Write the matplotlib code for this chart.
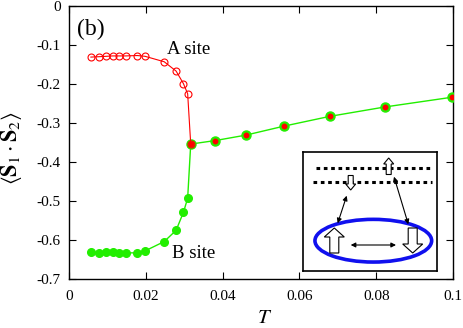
import matplotlib
matplotlib.use("Agg")
import matplotlib.pyplot as plt
from matplotlib.patches import Ellipse, FancyArrow, FancyArrowPatch

plt.rcParams['font.family'] = ['Liberation Serif', 'DejaVu Serif']
plt.rcParams['mathtext.fontset'] = 'stix'
plt.rcParams['axes.unicode_minus'] = False

# A site (low T, open red circles)
T_a = [0.0057, 0.0078, 0.0097, 0.0114, 0.0129, 0.0148, 0.0178, 0.0198,
       0.0248, 0.0279, 0.0298, 0.0309, 0.0317]
S_a = [-0.131, -0.130, -0.129, -0.128, -0.128, -0.128, -0.127, -0.129,
       -0.143, -0.167, -0.199, -0.225, -0.354]
# B site (low T, filled green circles)
T_b = [0.0057, 0.0078, 0.0097, 0.0114, 0.0129, 0.0148, 0.0178, 0.0198,
       0.0248, 0.0279, 0.0298, 0.0309, 0.0317]
S_b = [-0.632, -0.634, -0.632, -0.632, -0.633, -0.633, -0.633, -0.628,
       -0.604, -0.575, -0.529, -0.493, -0.354]
# high T (both sites equal)
T_h = [0.0317, 0.0381, 0.0461, 0.0560, 0.0679, 0.0822, 0.0997]
S_h = [-0.354, -0.345, -0.331, -0.308, -0.283, -0.259, -0.234]

xticks = [0, 0.02, 0.04, 0.06, 0.08, 0.1]
xticklabels = ['0', '0.02', '0.04', '0.06', '0.08', '0.1']
yticks = [0, -0.1, -0.2, -0.3, -0.4, -0.5, -0.6, -0.7]
yticklabels = ['0', '-0.1', '-0.2', '-0.3', '-0.4', '-0.5', '-0.6', '-0.7']

W, H = 463, 328
fig = plt.figure(figsize=(W / 100, H / 100), dpi=100)
ax = fig.add_axes([69 / W, (H - 279) / H, (453 - 69) / W, (279 - 6) / H])

green = '#22ee00'
red = '#ff0000'
ax.plot(T_b, S_b, '-o', color=green, ms=5.5, lw=1.0, mec=green, mfc=green, zorder=3)
ax.plot(T_h, S_h, '-o', color=green, ms=6.5, lw=1.0, mec=green, mfc=green, zorder=3)
ax.plot(T_a, S_a, '-o', color=red, ms=5.0, lw=0.8, mfc='none', mec=red, mew=0.8, zorder=4)
ax.plot(T_h, S_h, 'o', color=red, ms=3.2, mec=red, mfc=red, zorder=5)

ax.set_xlim(0, 0.1)
ax.set_ylim(-0.7, 0)
ax.set_xticks(xticks)
ax.set_xticklabels(xticklabels)
ax.set_yticks(yticks)
ax.set_yticklabels(yticklabels)
ax.tick_params(direction='in', top=True, right=True, labelsize=11, length=5, width=0.8)
ax.tick_params(axis='x', pad=8)
ax.tick_params(axis='y', pad=6)
for s in ax.spines.values():
    s.set_linewidth(1.0)

ax.set_xlabel(r'$T$', fontsize=15)
ax.xaxis.set_label_coords(0.509, -0.11)
ax.set_ylabel(r'$\langle \mathbf{S}_1 \cdot \mathbf{S}_2 \rangle$', fontsize=16)
ax.yaxis.set_label_coords(-0.118, 0.48)

ax.text(0.0022, -0.075, '(b)', fontsize=17)
ax.text(0.0256, -0.122, 'A site', fontsize=13.5)
ax.text(0.0267, -0.647, 'B site', fontsize=13.5)

# inset schematic (coordinates in figure pixels, y downward)
ins = fig.add_axes([302.7 / W, (H - 271) / H, (436.7 - 302.7) / W, (271 - 151.7) / H])
ins.set_xlim(302.7, 436.7)
ins.set_ylim(271, 151.7)
ins.set_xticks([])
ins.set_yticks([])
for s in ins.spines.values():
    s.set_linewidth(1.2)
ins.plot([316, 432], [167.7, 167.7], ls=(0, (1.2, 1.2)), color='k', lw=2.2)
ins.plot([313, 432], [182.3, 182.3], ls=(0, (1.2, 1.2)), color='k', lw=2.2)

def hollow(x, y0, y1, w, hw, hl):
    a = FancyArrow(x, y0, 0, y1 - y0, width=w, head_width=hw, head_length=hl,
                   length_includes_head=True, fc='white', ec='k', lw=0.8, zorder=5)
    ins.add_patch(a)

hollow(388.7, 174.5, 158, 5, 10, 6)
hollow(350.7, 175.5, 190, 5, 10, 6)
ins.add_patch(Ellipse((373.3, 240.7), 116.7, 42.7, fill=False, ec='#1010ee', lw=2.6, zorder=4))
hollow(334.3, 253, 228, 9, 20, 9)
hollow(412.7, 228, 253, 9, 20, 9)

def dbl(p0, p1):
    ins.add_patch(FancyArrowPatch(p0, p1, arrowstyle='<|-|>', mutation_scale=7,
                                  color='k', lw=0.8, zorder=6, shrinkA=0, shrinkB=0))

dbl((350.7, 245), (396, 245))
dbl((346.7, 195.7), (337.7, 223.3))
dbl((394, 176.7), (408.3, 224.3))

fig.savefig('out.png', dpi=100)
